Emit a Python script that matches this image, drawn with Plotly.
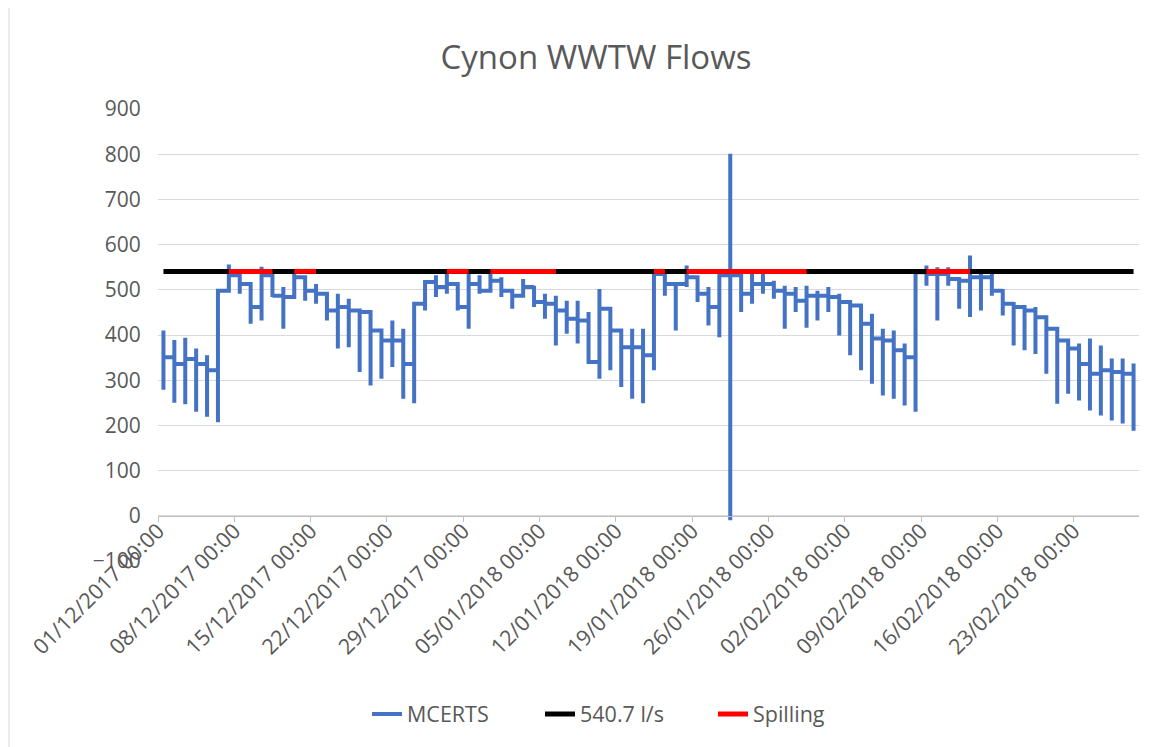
import datetime as dt
import plotly.graph_objects as go

# ---- data ----
start_date = "2017-12-01"
day_low = [279, 250, 247, 230, 219, 207, 498, 491, 425, 432,
           484, 414, 484, 476, 469, 432, 370, 373, 318, 288,
           303, 329, 259, 249, 454, 484, 491, 454, 414, 491,
           498, 484, 458, 487, 462, 436, 377, 403, 381, 340,
           303, 322, 285, 259, 249, 322, 487, 410, 506, 473,
           421, 395, -10, 451, 469, 491, 480, 414, 451, 416,
           432, 451, 399, 355, 322, 292, 266, 259, 244, 230,
           509, 432, 509, 458, 440, 454, 487, 443, 377, 366,
           358, 314, 248, 270, 255, 233, 222, 211, 204, 188]
day_high = [410, 389, 394, 370, 355, 498, 556, 535, 513, 551,
            535, 506, 535, 528, 513, 491, 491, 480, 454, 451,
            410, 432, 414, 469, 517, 532, 535, 513, 539, 532,
            545, 528, 498, 524, 509, 491, 487, 476, 476, 451,
            502, 458, 410, 414, 414, 546, 535, 513, 554, 528,
            506, 532, 801, 532, 535, 535, 520, 509, 506, 509,
            498, 506, 491, 473, 465, 447, 414, 410, 381, 540,
            554, 550, 550, 524, 576, 535, 535, 502, 473, 462,
            462, 439, 414, 392, 381, 392, 377, 348, 348, 337]
day_link = [351, 336, 347, 336, 322, 498, 532, 513, 462, 532,
            487, 484, 528, 498, 491, 454, 462, 454, 451, 410,
            388, 388, 336, 469, 517, 506, 513, 462, 513, 498,
            520, 498, 487, 506, 473, 469, 454, 436, 432, 340,
            458, 410, 373, 373, 355, 535, 513, 513, 528, 491,
            462, 532, 532, 491, 513, 513, 498, 491, 476, 487,
            487, 484, 473, 465, 425, 392, 388, 366, 351, 539,
            535, 535, 524, 520, 528, 528, 498, 469, 462, 454,
            439, 414, 388, 370, 336, 314, 322, 318, 314, 314]
consent_flow = 540.7
spill_start_day = [6, 12, 26, 30, 45, 48, 70]
spill_end_day = [10, 14, 28, 36, 46, 59, 74]
tick_labels = ["01/12/2017 00:00", "08/12/2017 00:00", "15/12/2017 00:00",
               "22/12/2017 00:00", "29/12/2017 00:00", "05/01/2018 00:00",
               "12/01/2018 00:00", "19/01/2018 00:00", "26/01/2018 00:00",
               "02/02/2018 00:00", "09/02/2018 00:00", "16/02/2018 00:00",
               "23/02/2018 00:00"]
y_ticks = [-100, 0, 100, 200, 300, 400, 500, 600, 700, 800, 900]

# ---- build series ----
d0 = dt.datetime.strptime(start_date, "%Y-%m-%d")
n = len(day_low)
day_x = [d0 + dt.timedelta(days=i, hours=12) for i in range(n)]

mx, my = [], []
for i in range(n):
    if i > 0:
        mx.append(day_x[i]); my.append(day_link[i - 1])
    mx += [day_x[i]] * 3
    my += [day_high[i], day_low[i], day_link[i]]

spill_y = []
for i in range(n):
    on = any(s <= i <= e for s, e in zip(spill_start_day, spill_end_day))
    spill_y.append(consent_flow if on else None)

tick_vals = [d0 + dt.timedelta(days=7 * k) for k in range(len(tick_labels))]

FONT = "Open Sans"
GREY = "#595959"
W, H = 1162, 739  # page body adds an 8px margin

fig = go.Figure()
fig.add_trace(go.Scatter(x=mx, y=my, mode="lines", name="MCERTS",
                         line=dict(color="#4472C4", width=4)))
fig.add_trace(go.Scatter(x=day_x, y=[consent_flow] * n, mode="lines",
                         name="540.7 l/s", line=dict(color="#000000", width=5)))
fig.add_trace(go.Scatter(x=day_x, y=spill_y, mode="lines", name="Spilling",
                         connectgaps=False, line=dict(color="#FF0000", width=5)))

fig.update_layout(
    width=W, height=H,
    paper_bgcolor="white", plot_bgcolor="white",
    margin=dict(l=150, r=31, t=101, b=186, autoexpand=False),
    title=dict(text="Cynon WWTW Flows", x=588 / W, xanchor="center",
               y=1 - 49 / H, yanchor="middle", yref="container",
               font=dict(family=FONT, size=33, color=GREY)),
    showlegend=True,
    legend=dict(orientation="h", x=359 / W, xanchor="left",
                y=1 - 706 / H, yanchor="middle", yref="container",
                xref="container",
                font=dict(family=FONT, size=21.5, color=GREY),
                entrywidth=128, entrywidthmode="pixels", tracegroupgap=0),
    font=dict(family=FONT, color=GREY),
)
fig.update_yaxes(range=[-100, 900], tickvals=y_ticks, showgrid=True,
                 gridcolor="#D9D9D9", gridwidth=1, zeroline=False,
                 showline=False, ticks="outside", ticklen=12,
                 tickcolor="rgba(0,0,0,0)", automargin=False,
                 tickfont=dict(family=FONT, size=21, color=GREY))
fig.update_xaxes(type="date",
                 range=[d0, d0 + dt.timedelta(days=90)],
                 tickvals=tick_vals, ticktext=tick_labels, tickangle=-45,
                 anchor="free", position=0.1, showgrid=False, zeroline=False,
                 showline=True, linecolor="#BFBFBF", linewidth=1,
                 ticks="outside", ticklen=5, tickcolor="#BFBFBF",
                 ticklabelstandoff=-12, automargin=False,
                 tickfont=dict(family=FONT, size=21.5, color=GREY))
fig.add_shape(type="line", xref="paper", yref="paper",
              x0=(1 - 150) / 981, x1=(1 - 150) / 981,
              y0=(553 - 739) / 452, y1=(553 + 8) / 452,
              line=dict(color="#D9D9D9", width=1))

fig.write_html("out.html")
